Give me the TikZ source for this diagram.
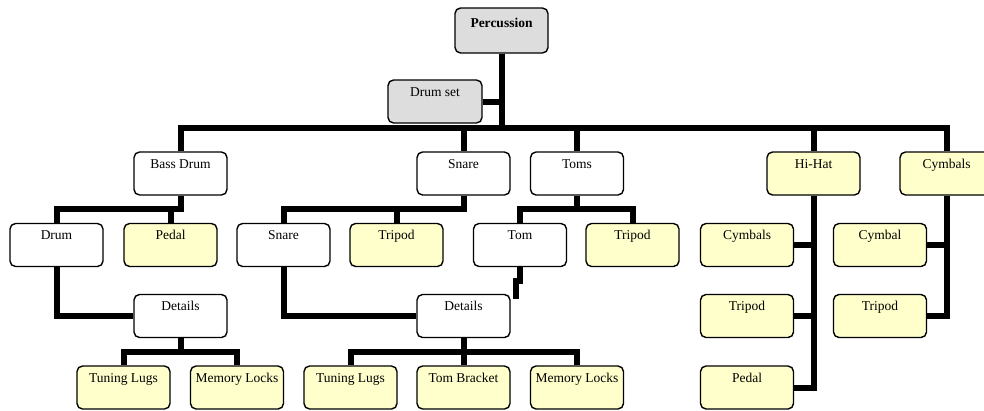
\documentclass[tikz,border=0pt]{standalone}
\usepackage{fontspec}
\setmainfont{Liberation Serif}
\usetikzlibrary{backgrounds}
\definecolor{boxyellow}{HTML}{FFFFCC}
\definecolor{boxgray}{HTML}{DDDDDD}
\tikzset{
  box/.style={draw, line width=1.4pt, rounded corners=5.5pt, fill=white,
    minimum width=93pt, inner xsep=2pt, inner ysep=0pt,
    text height=16pt, text depth=27pt,
    font=\fontsize{13.5}{15}\selectfont},
  ybox/.style={box, fill=boxyellow},
  gbox/.style={box, fill=boxgray},
  conn/.style={line width=6pt, line join=miter}
}
\begin{document}
\begin{tikzpicture}[x=1pt, y=-1pt]
\path[use as bounding box, clip] (0,0) rectangle (984,410);

% top of the tree
\node[gbox, text height=19pt, text depth=26pt, font=\fontsize{13.5}{15}\selectfont\bfseries] (perc) at (501.5,30.5) {Percussion};
\node[gbox, minimum width=94pt] (ds) at (435,101.5) {Drum set};

% main groups
\node[box]  (bd)   at (180.5,173.5) {Bass Drum};
\node[box]  (sn)   at (463.5,173.5) {Snare};
\node[box]  (toms) at (577,173.5)   {Toms};
\node[ybox] (hh)   at (813.5,173.5) {Hi-Hat};
\node[ybox] (cy)   at (946.5,173.5) {Cymbals};

% parts
\node[box]  (drum)  at (56.5,245)  {Drum};
\node[ybox] (pedal) at (170.5,245) {Pedal};
\node[box]  (sn3)   at (283.5,245) {Snare};
\node[ybox] (trp1)  at (396.5,245) {Tripod};
\node[box]  (tom)   at (520,245)   {Tom};
\node[ybox] (trp2)  at (632.5,245) {Tripod};
\node[ybox] (hhc)   at (747,245)   {Cymbals};
\node[ybox] (cyc)   at (880,245)   {Cymbal};

\node[box]  (det1) at (180.5,316) {Details};
\node[box]  (det2) at (463.5,316) {Details};
\node[ybox] (hht)  at (747,316)   {Tripod};
\node[ybox] (cyt)  at (880,316)   {Tripod};

\node[ybox] (tl1) at (123.5,387.5) {Tuning Lugs};
\node[ybox] (ml1) at (237,387.5)   {Memory Locks};
\node[ybox] (tl2) at (350.5,387.5) {Tuning Lugs};
\node[ybox] (tb)  at (463.5,387.5) {Tom Bracket};
\node[ybox] (ml2) at (577,387.5)   {Memory Locks};
\node[ybox] (hhp) at (747,387.5)   {Pedal};

% bus levels
\coordinate (top) at (0,128);
\coordinate (lv2) at (0,209);
\coordinate (lv4) at (0,352);
\coordinate (tomend) at (516,299);

\begin{scope}[on background layer]
  % percussion to groups
  \draw[conn] (ds.east) -- (ds.east -| perc.south);
  \foreach \n in {bd,sn,toms,hh,cy}
    \draw[conn] (perc.south) -- (perc.south |- top) -| (\n.north);
  % bass drum
  \draw[conn] (bd.south) -- (bd.south |- lv2) -| (drum.north);
  \draw[conn] (bd.south) -- (bd.south |- lv2) -| (pedal.north);
  % snare
  \draw[conn] (sn.south) -- (sn.south |- lv2) -| (sn3.north);
  \draw[conn] (sn.south) -- (sn.south |- lv2) -| (trp1.north);
  % toms
  \draw[conn] (toms.south) -- (toms.south |- lv2) -| (tom.north);
  \draw[conn] (toms.south) -- (toms.south |- lv2) -| (trp2.north);
  % details links
  \draw[conn] (drum.south) |- (det1.west);
  \draw[conn] (sn3.south) |- (det2.west);
  \draw[conn] (tom.south) -- ++(0,14) -- ++(-4,0) -- (tomend);
  % details parts
  \draw[conn] (det1.south) -- (det1.south |- lv4) -| (tl1.north);
  \draw[conn] (det1.south) -- (det1.south |- lv4) -| (ml1.north);
  \draw[conn] (det2.south) -- (det2.south |- lv4) -| (tl2.north);
  \draw[conn] (det2.south) -- (tb.north);
  \draw[conn] (det2.south) -- (det2.south |- lv4) -| (ml2.north);
  % hi-hat
  \draw[conn] (hh.south) |- (hhc.east);
  \draw[conn] (hh.south) |- (hht.east);
  \draw[conn] (hh.south) |- (hhp.east);
  % cymbals
  \draw[conn] (cy.south) |- (cyc.east);
  \draw[conn] (cy.south) |- (cyt.east);
\end{scope}
\end{tikzpicture}
\end{document}
